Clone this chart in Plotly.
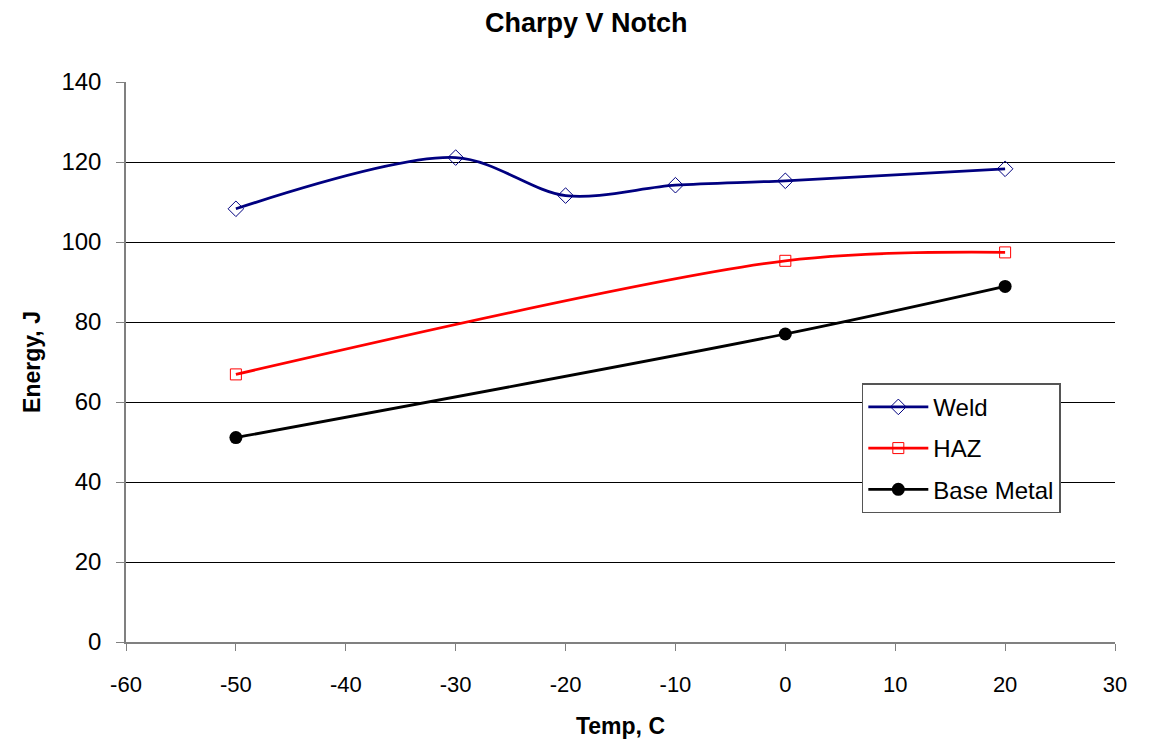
import plotly.graph_objects as go

# Test temperatures (C)
temp = [-50, -30, -20, -10, 0, 20]
temp_haz = [-50, 0, 20]
temp_base = [-50, 0, 20]

# Absorbed energy (J)
weld = [108.3, 121.1, 111.6, 114.2, 115.3, 118.3]
haz = [66.9, 95.3, 97.4]
base_metal = [51.1, 77.0, 88.9]

# Axis ticks
x_ticks = [-60, -50, -40, -30, -20, -10, 0, 10, 20, 30]
x_tick_labels = ["-60", "-50", "-40", "-30", "-20", "-10", "0", "10", "20", "30"]
y_ticks = [0, 20, 40, 60, 80, 100, 120, 140]

font_family = "Liberation Sans, Arial, sans-serif"

fig = go.Figure()
fig.add_trace(go.Scatter(
    x=temp, y=weld, name="Weld", mode="lines+markers", legendgroup="weld",
    line=dict(color="#000080", width=2.75, shape="spline", smoothing=0.9),
    marker=dict(symbol="diamond-open", size=12, color="#000080", line=dict(width=1)),
))
fig.add_trace(go.Scatter(
    x=temp_haz, y=haz, name="HAZ", mode="lines+markers", legendgroup="haz",
    line=dict(color="#ff0000", width=2.75, shape="spline", smoothing=0.9),
    marker=dict(symbol="square-open", size=11, color="#ff0000", line=dict(width=1)),
))
fig.add_trace(go.Scatter(
    x=temp_base, y=base_metal, name="Base Metal", mode="lines+markers", legendgroup="base",
    line=dict(color="#000000", width=2.75, shape="spline", smoothing=0.9),
    marker=dict(symbol="circle", size=13, color="#000000"),
))

fig.update_layout(
    width=1155, height=743,
    margin=dict(l=126, r=40, t=82, b=101),
    paper_bgcolor="white", plot_bgcolor="white",
    font=dict(family=font_family, size=23, color="black"),
    title=dict(text="<b>Charpy V Notch</b>", x=0.5075, xanchor="center",
               y=0.97, yanchor="middle", font=dict(size=27)),
    showlegend=True,
    legend=dict(x=0.744, y=0.462, xanchor="left", yanchor="top",
                bordercolor="#555555", borderwidth=1.5, bgcolor="white",
                font=dict(size=24), itemwidth=60, traceorder="grouped",
                tracegroupgap=7),
)

fig.update_xaxes(
    range=[-60, 30], tickvals=x_ticks, ticktext=x_tick_labels,
    showgrid=False, zeroline=False, automargin=False,
    showline=True, linecolor="#808080", linewidth=1.5,
    ticks="outside", ticklen=7, tickcolor="#808080",
    ticklabelstandoff=15, tickfont=dict(size=22),
    title=dict(text="<b>Temp, C</b>", font=dict(size=23), standoff=22),
)
fig.update_yaxes(
    range=[0, 140], tickvals=y_ticks,
    showgrid=True, gridcolor="#000000", gridwidth=1,
    zeroline=False, automargin=False,
    showline=True, linecolor="#808080", linewidth=1.5,
    ticks="outside", ticklen=8, tickcolor="#808080",
    ticklabelstandoff=10, tickfont=dict(size=24),
    title=dict(text="<b>Energy, J</b>", font=dict(size=23), standoff=14),
)

fig.write_html("out.html")
